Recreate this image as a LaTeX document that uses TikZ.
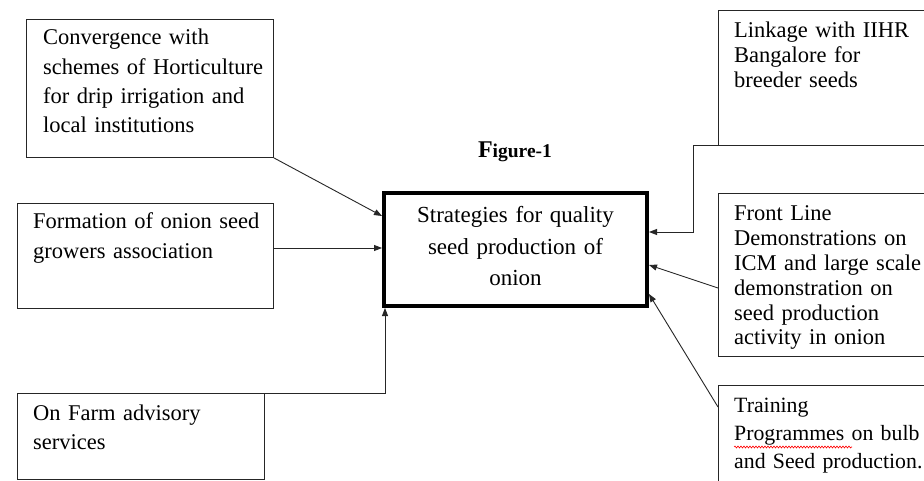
\documentclass[tikz,border=0pt]{standalone}
\usepackage{fontspec}
\setmainfont{Liberation Serif}
\usetikzlibrary{arrows.meta,decorations.pathmorphing}
\begin{document}
\begin{tikzpicture}[x=1pt,y=-1pt,
  box/.style={draw=black!85, line width=0.9pt, rectangle, inner sep=0pt, anchor=north west},
  txt/.style={anchor=base west, inner sep=0pt, text width=260pt, align=left},
  arr/.style={draw=black!85, line width=0.9pt, -{Triangle[length=8pt,width=6pt]}},
]
\useasboundingbox (0,0) rectangle (924,481);
\fill[white] (0,0) rectangle (924,481);

% left boxes
\node[box, minimum width=247pt, minimum height=138pt] (b1) at (26,19) {};
\node[txt, font=\fontsize{22.5}{29.3}\selectfont] (t1) at (43,45)
  {Convergence with\\ schemes of Horticulture\\ for drip irrigation and\\ local institutions};

\node[box, minimum width=256pt, minimum height=105pt] (b2) at (17,203) {};
\node[txt, font=\fontsize{22.5}{30}\selectfont] (t2) at (33,229)
  {Formation of onion seed\\ growers association};

\node[box, minimum width=247pt, minimum height=86pt] (b3) at (17,393) {};
\node[txt, font=\fontsize{22.5}{29}\selectfont] (t3) at (33,420)
  {On Farm advisory\\ services};

% centre
\node[draw=black, line width=4pt, minimum width=263pt, minimum height=113pt, inner sep=0pt] (c) at (515.5,249.5) {};
\node[inner sep=0pt, anchor=base, align=center, text width=263pt, font=\fontsize{23}{31.5}\selectfont] (ct) at (515.5,223)
  {Strategies for quality\\ seed production of\\ onion};

\node[inner sep=0pt, anchor=base] (fig) at (515,158)
  {\bfseries{\fontsize{24}{24}\selectfont F}{\fontsize{19.5}{20}\selectfont igure-1}};

% right boxes
\node[box, minimum width=230pt, minimum height=135pt] (b4) at (718,10) {};
\node[txt, font=\fontsize{22.5}{25}\selectfont] (t4) at (734,38)
  {Linkage with IIHR\\ Bangalore for\\ breeder seeds};

\node[box, minimum width=230pt, minimum height=163pt] (b5) at (718,193) {};
\node[txt, font=\fontsize{22.5}{24.8}\selectfont] (t5) at (734,221)
  {Front Line\\ Demonstrations on\\ ICM and large scale\\ demonstration on\\ seed production\\ activity in onion};

\node[box, minimum width=230pt, minimum height=120pt] (b6) at (718,385) {};
\node[txt, font=\fontsize{21.8}{28}\selectfont] (t6) at (734,412)
  {Training\\ Programmes on bulb\\ and Seed production.};
\draw[red, line width=0.6pt, decorate, decoration={snake, amplitude=1pt, segment length=3pt}]
  (734,447) -- (852,447);

% connectors
\draw[arr] (b1.south east) -- (c.west |- 0,216);
\draw[arr] (b2.east |- 0,248) -- (c.west |- 0,248);
\draw[arr] (b3.north east) -| ([xshift=3pt]c.south west);
\draw[arr] (b4.south east) -| (693,232) -- (c.east |- 0,232);
\draw[arr] (b5.west |- 0,288) -- (c.east |- 0,265);
\draw[arr] (b6.west |- 0,407) -- (c.east |- 0,294);
\end{tikzpicture}
\end{document}
